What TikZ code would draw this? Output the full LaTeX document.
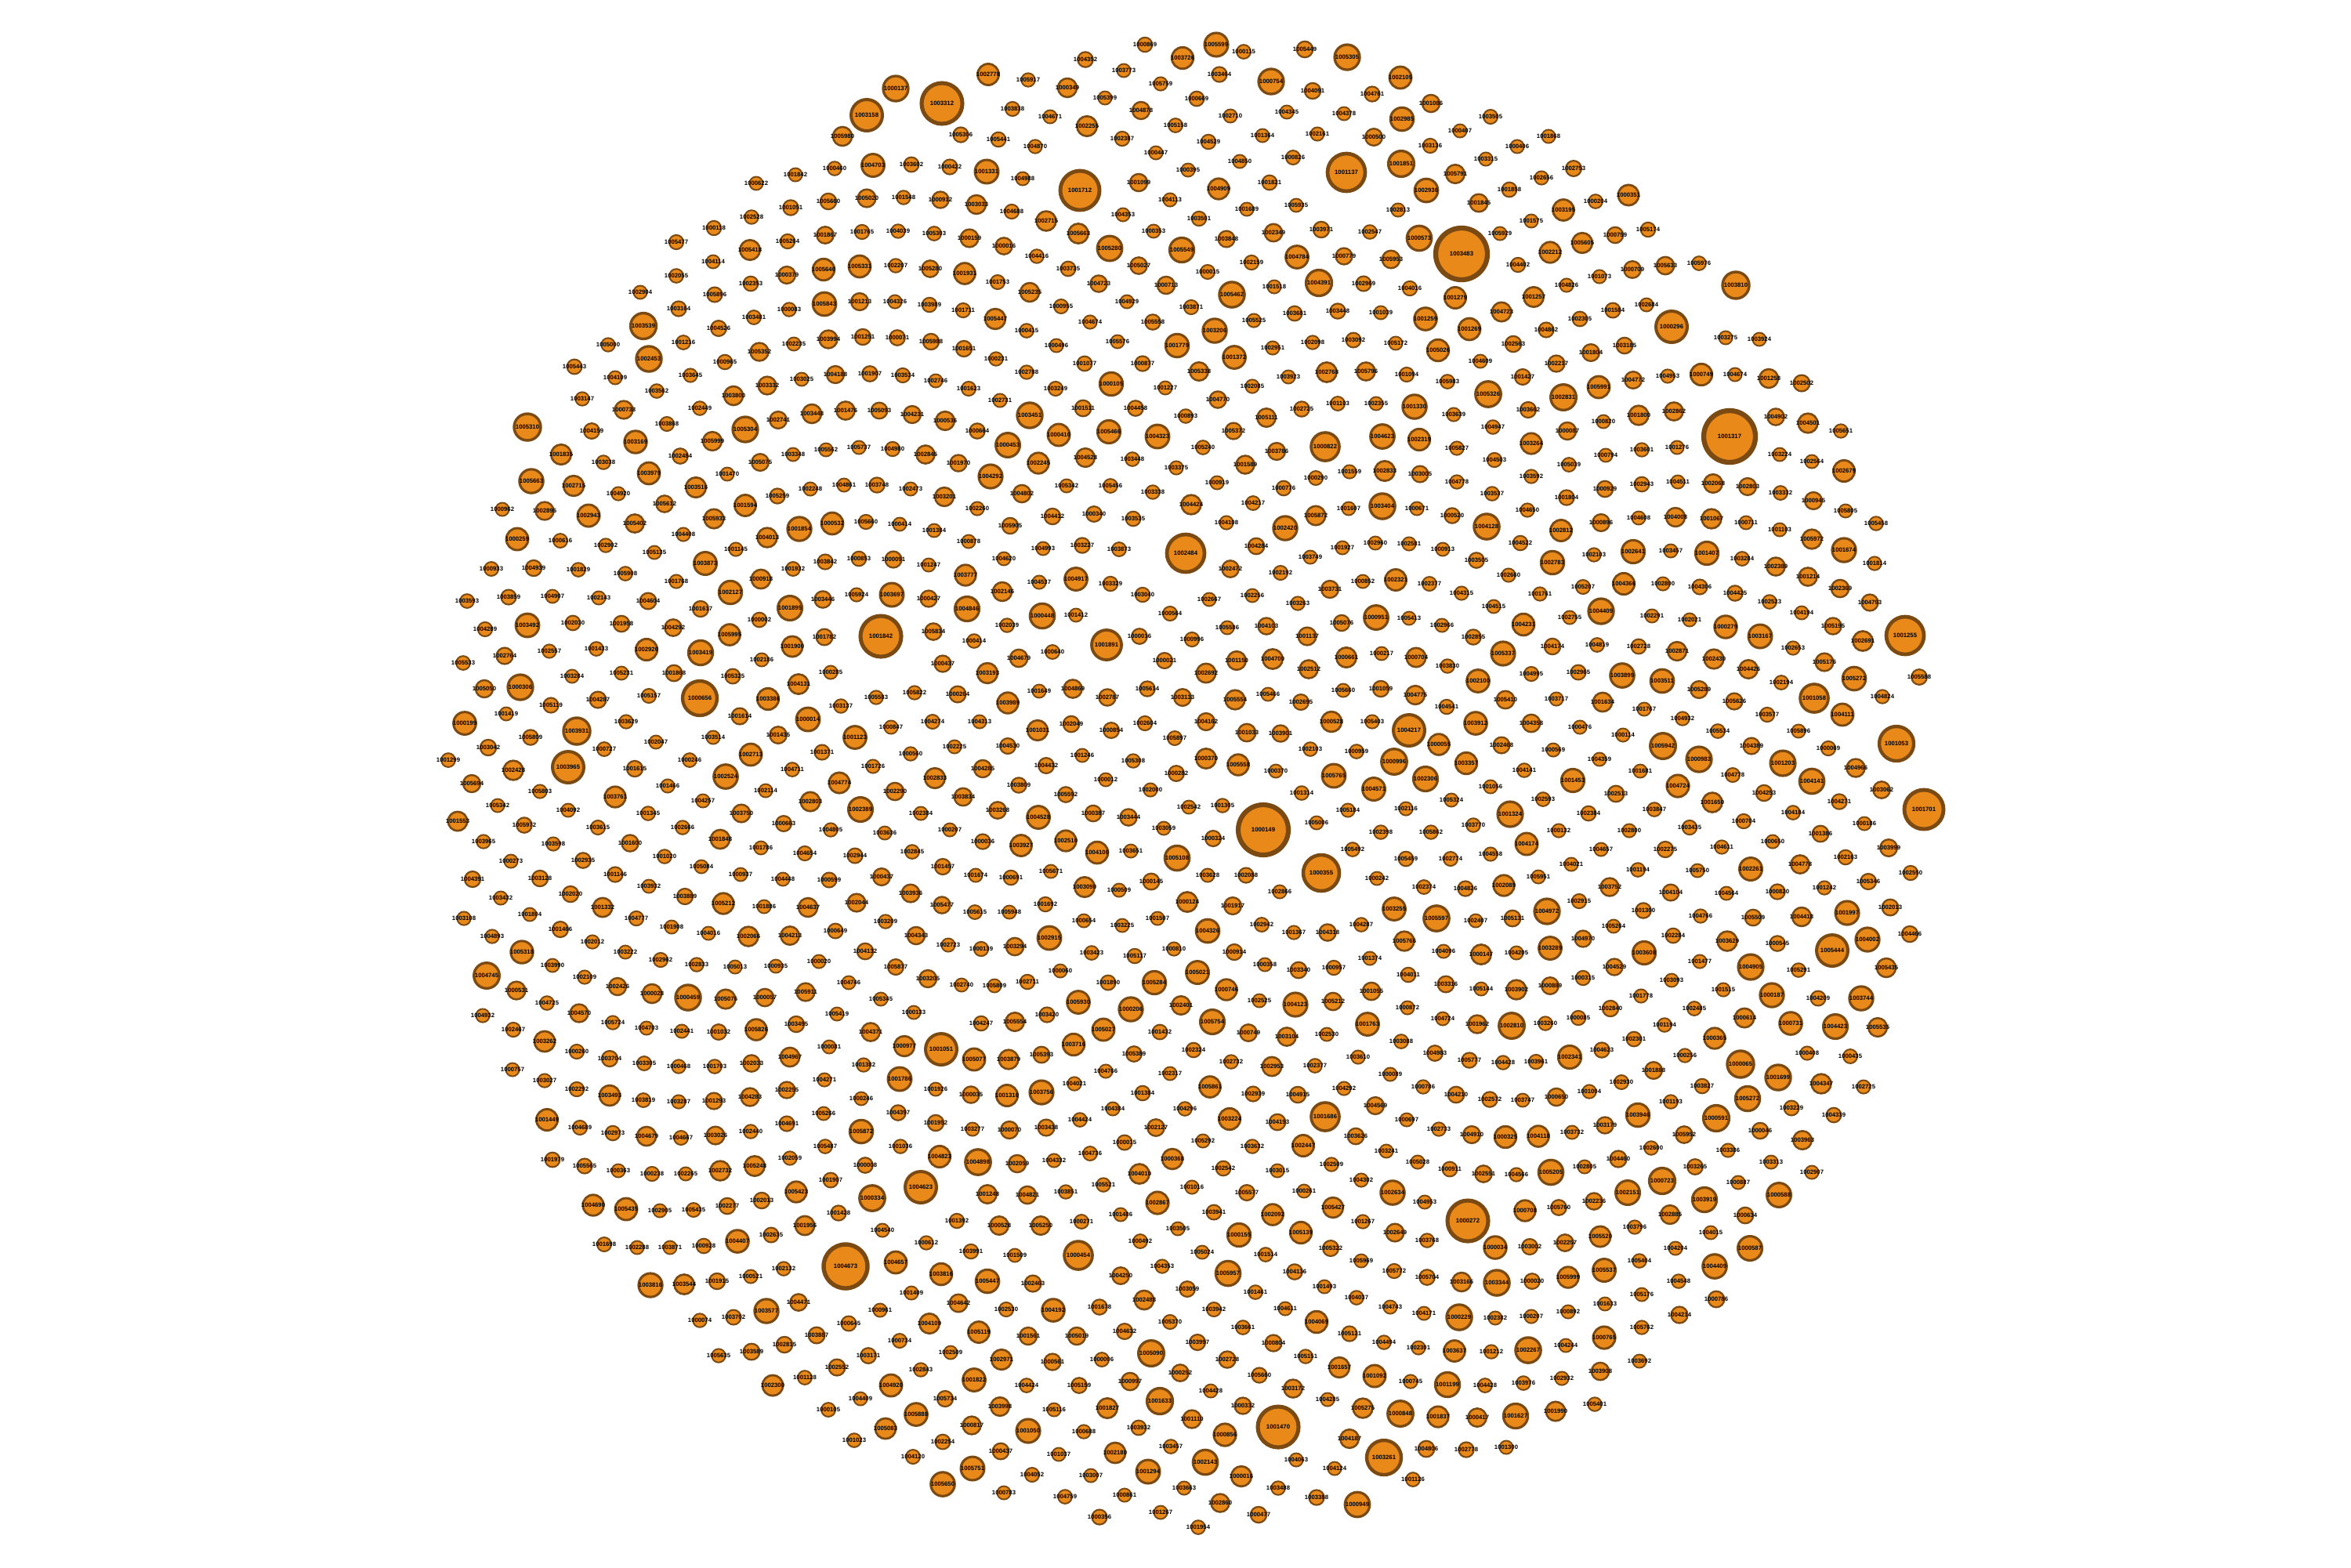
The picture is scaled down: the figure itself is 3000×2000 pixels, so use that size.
\documentclass[tikz,border=0pt]{standalone}
\usepackage{fontspec}
\setmainfont{Liberation Sans}
\definecolor{nodefill}{HTML}{E8891A}
\definecolor{nodeline}{HTML}{7A4A12}

\tikzset{
  member/.style={draw=nodeline, fill=nodefill, circle, inner sep=0pt, outer sep=0pt},
  idlabel/.style={font=\fontsize{2.2}{2.6}\selectfont\bfseries, inner sep=0pt, text=black}
}

% hubs: x/y/radius/id (in px of the 3000x2000 page)
\def\hublist{1612/1059/32/1000149, 1686/1114/23/1000355, 1865/324/33/1003483,
  2207/557/33/1001317, 1202/132/26/1003312, 1106/147/20/1003158,
  1143/113/16/1000137, 1378/243/25/1001712, 1079/1616/28/1004673,
  1631/1821/26/1001470, 1766/1860/22/1003261, 1873/1558/26/1000272,
  1124/812/26/1001842, 1513/706/24/1002484, 1412/823/19/1001891,
  1622/104/16/1000754, 1552/57/15/1005599, 1719/73/16/1005305,
  1718/220/24/1001137, 2431/811/24/1001255, 893/891/22/1000656,
  1798/932/20/1004217, 1691/570/18/1000822, 2338/1213/20/1005444,
  1175/1515/20/1004623, 1201/1339/20/1001051, 2133/417/20/1000296,
  2315/891/18/1001058, 2215/364/17/1003810, 673/545/17/1005310,
  2221/1358/17/1000065, 2455/1033/25/1001701, 2420/949/22/1001053,
  725/979/20/1003965, 736/933/17/1003931, 664/877/16/1000306,
  1376/1602/18/1000454, 1691/1425/18/1001686, 2043/780/16/1004409}

\begin{document}
\begin{tikzpicture}[x=0.1mm, y=-0.1mm]
\useasboundingbox (0,0) rectangle (3000,2000);

% the big members
\foreach \hx/\hy/\hr/\hid in \hublist {
  \pgfmathsetmacro\lw{0.18*\hr+0.4}
  \node[member, minimum size=\hr*0.2mm, line width=\lw*0.1mm,
        label={[idlabel]center:\hid}] (h\hid) at (\hx,\hy) {};
}

% all other members, spread over the disc
\pgfmathsetseed{4242}
\foreach \k in {1,...,1400} {
  \pgfmathsetmacro\rad{950*sqrt((\k-0.5)/1400)}
  \edef\frc{\the\numexpr\k*618034-((\k*618034-500000)/1000000)*1000000\relax}
  \edef\angq{\the\numexpr\frc*9/1000\relax}
  \pgfmathsetmacro\ang{\angq/25}
  \pgfmathtruncatemacro\px{1515+\rad*cos(\ang)}
  \pgfmathtruncatemacro\py{1000+\rad*sin(\ang)}
  \pgfmathrandominteger\lab{0}{5999}
  \pgfmathsetmacro\u{rnd}
  \pgfmathsetmacro\nr{8.5+8*\u*\u*\u}
  \pgfmathsetmacro\lw{0.18*\nr+0.4}
  \edef\lbl{\the\numexpr1000000+\lab\relax}
  \gdef\keep{1}
  \foreach \hx/\hy/\hr/\hid in \hublist {
    \ifnum\numexpr(\px-\hx)*(\px-\hx)+(\py-\hy)*(\py-\hy)\relax<\numexpr(\hr+20)*(\hr+20)\relax
      \gdef\keep{0}
    \fi
  }
  \ifnum\keep=1
    \node[member, minimum size=\nr*0.2mm, line width=\lw*0.1mm,
          label={[idlabel]center:\lbl}] (m\k) at (\px,\py) {};
  \fi
}
\end{tikzpicture}
\end{document}
